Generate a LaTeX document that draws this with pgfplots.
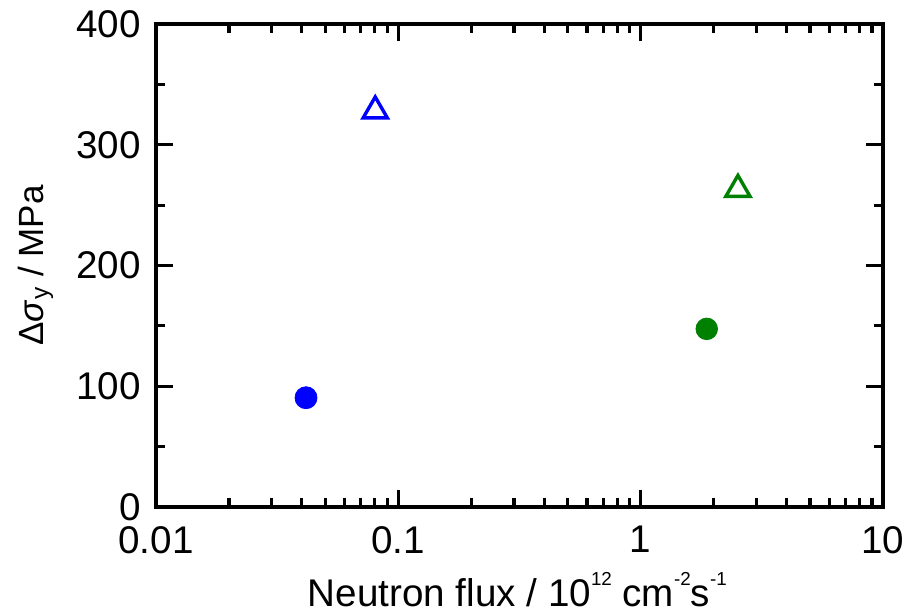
\documentclass[border=0pt]{standalone}
\usepackage{fontspec}
\setmainfont{Liberation Sans}
\usepackage{pgfplots}
\pgfplotsset{compat=1.18}
\definecolor{ogreen}{RGB}{0,128,0}
\definecolor{oblue}{RGB}{0,0,255}
\newcommand{\sups}[1]{\raisebox{10.5pt}{\fontsize{9.4}{10}\selectfont #1}}
\begin{document}
\begin{tikzpicture}
\begin{axis}[
  scale only axis, width=363.5pt, height=241.5pt,
  xmode=log, xmin=0.01, xmax=10, ymin=0, ymax=400,
  xtick={0.01,0.1,1,10}, xticklabels={0.01,0.1,1,10},
  minor xtick={0.02,0.03,0.04,0.05,0.06,0.07,0.08,0.09,0.2,0.3,0.4,0.5,0.6,0.7,0.8,0.9,2,3,4,5,6,7,8,9},
  ytick={0,100,200,300,400}, minor ytick={50,150,250,350},
  xtick pos=both, ytick pos=both,
  tick align=inside,
  axis line style={line width=1.7pt},
  every tick/.style={black, line width=1.6pt},
  major tick length=8.5pt, minor tick length=4.5pt,
  font=\fontsize{19.3}{23}\selectfont,
  /pgf/number format/assume math mode=true,
  xticklabel style={yshift=-6pt},
  yticklabel style={xshift=-4pt},
  xlabel={Neutron flux / 10\sups{12} cm\sups{-2}s\sups{-1}},
  ylabel={Δ\textit{σ}\textsubscript{y} / MPa},
  xlabel style={at={(axis description cs:0.497,-0.206)}, anchor=base},
  ylabel style={at={(axis description cs:-0.1554,0.5)}, anchor=base, font=\fontsize{17.5}{21}\selectfont},
  clip=false,
]
\addplot[only marks, mark=*, mark size=5.5pt, color=oblue] coordinates {(0.0416,90.5)};
\addplot[only marks, mark=triangle, mark size=7pt, line width=1.7pt, color=oblue] coordinates {(0.0803,328)};
\addplot[only marks, mark=*, mark size=5.4pt, color=ogreen] coordinates {(1.874,147.5)};
\addplot[only marks, mark=triangle, mark size=7pt, line width=1.7pt, color=ogreen] coordinates {(2.52,263)};
\coordinate (bl) at (rel axis cs:0,0);
\coordinate (tr) at (rel axis cs:1,1);
\end{axis}
\pgfresetboundingbox
\path ([shift={(-78pt,-53pt)}]bl) rectangle ([shift={(11pt,12pt)}]tr);
\end{tikzpicture}
\end{document}
